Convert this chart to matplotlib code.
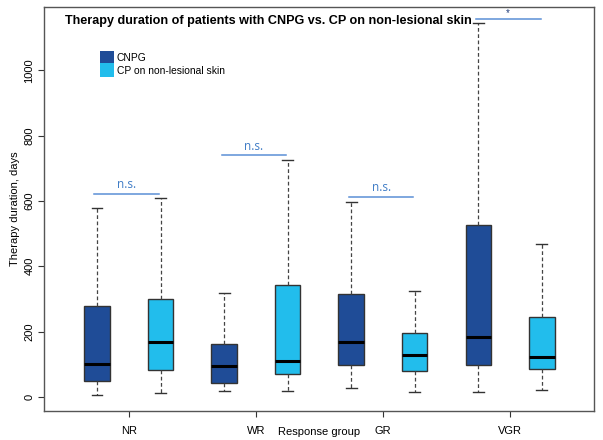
import matplotlib
matplotlib.use("Agg")
import matplotlib.pyplot as plt
from matplotlib.patches import Patch

plt.rcParams['font.family'] = ['Liberation Sans', 'DejaVu Sans']

# data (days)
groups = ["NR", "WR", "GR", "VGR"]
series = ["CNPG", "CP on non-lesional skin"]
colors = ["#1F4C97", "#22BDEC"]

whislo = [[5, 18, 27, 14], [11, 18, 14, 20]]
q1 = [[49, 43, 99, 98], [82, 71, 78, 84]]
med = [[100, 96, 169, 182], [168, 109, 128, 122]]
q3 = [[278, 163, 315, 527], [300, 343, 197, 245]]
whishi = [[580, 318, 598, 1144], [608, 726, 323, 468]]

sig_labels = ["n.s.", "n.s.", "n.s.", "*"]
sig_y = [622, 740, 612, 1157]
sig_colors = ["#3F7CC6", "#3F7CC6", "#3F7CC6", "#1F3C7A"]

fig = plt.figure(figsize=(6.03, 4.40), dpi=100)
ax = fig.add_axes([0.073, 0.066, 0.912, 0.918])

offsets = [-0.25, 0.25]
for s in range(2):
    stats = []
    for g in range(len(groups)):
        stats.append(dict(whislo=whislo[s][g], q1=q1[s][g], med=med[s][g],
                          q3=q3[s][g], whishi=whishi[s][g], fliers=[]))
    pos = [g + 1 + offsets[s] for g in range(len(groups))]
    ax.bxp(stats, positions=pos, widths=0.2, patch_artist=True,
           showfliers=False, capwidths=0.085,
           boxprops=dict(facecolor=colors[s], edgecolor="#333333", linewidth=1.0),
           medianprops=dict(color="black", linewidth=2.2),
           whiskerprops=dict(color="#444444", linestyle=(0, (3, 2)), linewidth=0.9),
           capprops=dict(color="#333333", linewidth=1.0))

# significance bars
for g in range(len(groups)):
    x0, x1 = g + 1 - 0.27, g + 1 + 0.24
    ax.plot([x0, x1], [sig_y[g], sig_y[g]], color="#5B8FD6", linewidth=1.1)
    if sig_labels[g] == "*":
        ax.text((x0 + x1) / 2, sig_y[g] + 4, sig_labels[g], ha="center", va="bottom",
                fontsize=7, color=sig_colors[g])
    else:
        ax.text((x0 + x1) / 2, sig_y[g] + 8, sig_labels[g], ha="center", va="bottom",
                fontsize=8.5, color=sig_colors[g], family=["Open Sans", "DejaVu Sans"])

ax.set_xlim(0.333, 4.66)
ax.set_ylim(-43, 1194)
ax.set_xticks(range(1, len(groups) + 1))
ax.set_xticklabels(groups, fontsize=8)
ax.set_yticks([0, 200, 400, 600, 800, 1000])
ax.set_yticklabels(["0", "200", "400", "600", "800", "1000"], fontsize=8,
                   rotation=90, va="center")
ax.tick_params(axis="x", length=4, color="#333333", pad=7)
ax.tick_params(axis="y", length=4, color="#333333", pad=3)
for sp in ax.spines.values():
    sp.set_color("#555555")
    sp.set_linewidth(1.0)

ax.set_ylabel("Therapy duration, days", fontsize=8, labelpad=3)
fig.text(0.529, 0.018, "Response group", ha="center", va="center", fontsize=8)
fig.text(0.107, 0.952, "Therapy duration of patients with CNPG vs. CP on non-lesional skin",
         ha="left", va="center", fontsize=9.1, fontweight="bold")

handles = [Patch(facecolor=c, edgecolor="none") for c in colors]
ax.legend(handles, series, loc="upper left", bbox_to_anchor=(0.0895, 0.91),
          frameon=False, fontsize=7.4, handlelength=1.3, handleheight=1.7,
          handletextpad=0.3, labelspacing=-0.1, borderpad=0.2)

fig.savefig("out.png", dpi=100)
